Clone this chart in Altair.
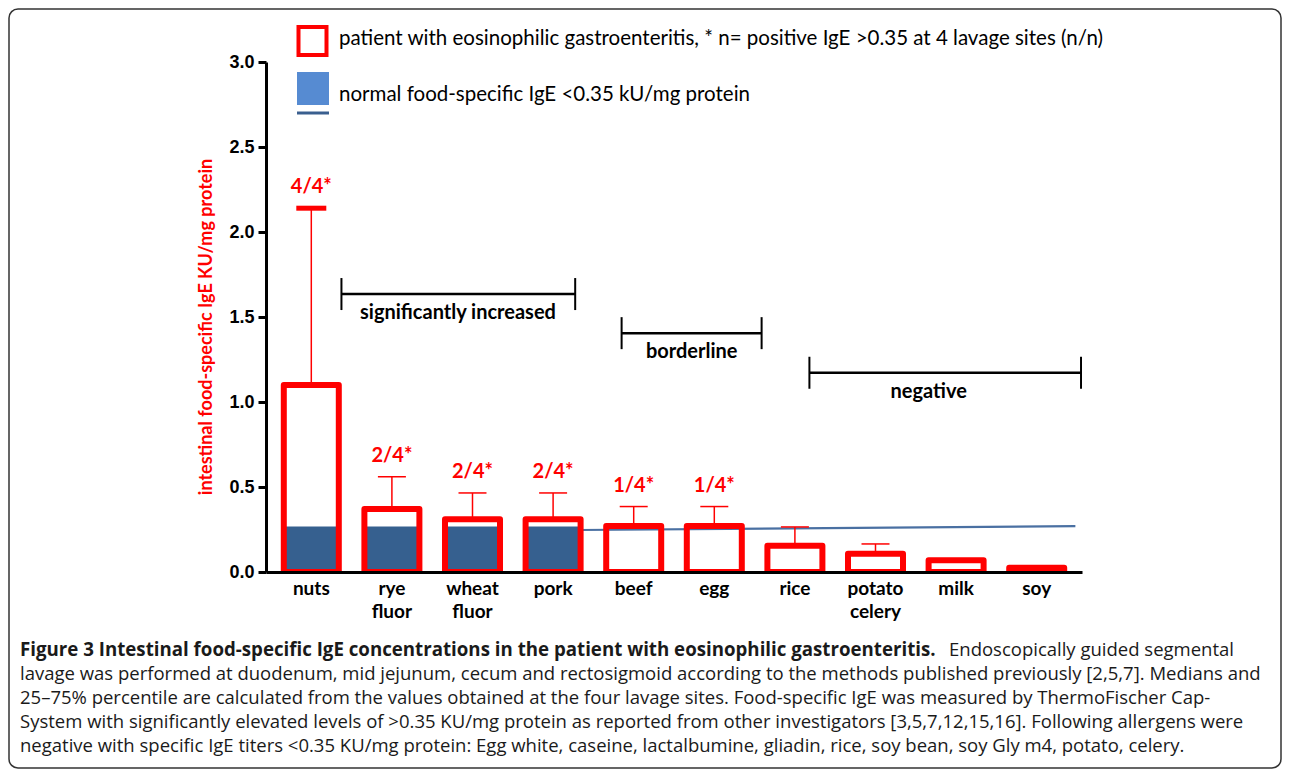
import altair as alt
import pandas as pd

# ---------------- data ----------------
categories = ["nuts", "rye fluor", "wheat fluor", "pork", "beef", "egg",
              "rice", "potato celery", "milk", "soy"]
median_ige = [1.10, 0.37, 0.31, 0.31, 0.27, 0.27, 0.155, 0.108, 0.069, 0.025]
upper_ige = [2.14, 0.56, 0.465, 0.465, 0.385, 0.385, 0.265, 0.165, None, None]
positive_sites = ["4/4*", "2/4*", "2/4*", "2/4*", "1/4*", "1/4*", None, None, None, None]
normal_bar = [0.267, 0.267, 0.267, 0.267, None, None, None, None, None, None]

normal_line_pos = [3.32, 9.48]
normal_line_val = [0.247, 0.27]

bracket_text = ["significantly  increased", "borderline", "negative"]
bracket_start = [0.374, 3.85, 6.18]
bracket_end = [3.274, 5.587, 9.55]
bracket_level = [1.635, 1.405, 1.172]
bracket_text_pos = [1.82, 4.72, 7.66]

y_ticks = [0.0, 0.5, 1.0, 1.5, 2.0, 2.5, 3.0]

y_title = "intestinal food-specific IgE KU/mg protein"
legend_patient = "patient with eosinophilic gastroenteritis, * n= positive IgE >0.35 at 4 lavage sites (n/n)"
legend_normal = "normal food-specific IgE <0.35 kU/mg protein"

caption_bold = "Figure 3 Intestinal food-specific IgE concentrations in the patient with eosinophilic gastroenteritis."
caption_first_tail = "Endoscopically guided segmental"
caption_rest = [
    "lavage was performed at duodenum, mid jejunum, cecum and rectosigmoid according to the methods published previously [2,5,7]. Medians and",
    "25\u201375% percentile are calculated from the values obtained at the four lavage sites. Food-specific IgE was measured by ThermoFischer Cap-",
    "System with significantly elevated levels of >0.35 KU/mg protein as reported from other investigators [3,5,7,12,15,16]. Following allergens were",
    "negative with specific IgE titers <0.35 KU/mg protein: Egg white, caseine, lactalbumine, gliadin, rice, soy bean, soy Gly m4, potato, celery.",
]

# ---------------- tables ----------------
idx = list(range(len(categories)))
df = pd.DataFrame({
    "idx": idx,
    "cat": categories,
    "median": median_ige,
    "upper": upper_ige,
    "pos": positive_sites,
    "normal": normal_bar,
})
df_line = pd.DataFrame({"pos": normal_line_pos, "val": normal_line_val})
df_br = pd.DataFrame({
    "label": bracket_text,
    "start": bracket_start,
    "end": bracket_end,
    "level": bracket_level,
    "tpos": bracket_text_pos,
})
df_ends = pd.DataFrame({
    "pos": bracket_start + bracket_end,
    "level": bracket_level + bracket_level,
})

RED = "#ff0000"
W, H = 816, 510

xscale = alt.Scale(domain=[-0.5, 9.5], nice=False, zero=False)
yscale = alt.Scale(domain=[0, 3], nice=False, zero=True)
xaxis = alt.Axis(labels=False, ticks=False, grid=False, title=None, domain=True,
                 domainColor="black", domainWidth=3, zindex=1)
yaxis = alt.Axis(values=y_ticks, format=".1f", grid=False, title=None,
                 domainColor="black", domainWidth=3, tickColor="black",
                 tickWidth=3, tickSize=8, labelFont="Liberation Sans",
                 labelFontWeight="bold", labelFontSize=18, labelColor="black",
                 labelPadding=4, zindex=1)


def X(f):
    return alt.X(f, type="quantitative", scale=xscale, axis=xaxis)


def Y(f):
    return alt.Y(f, type="quantitative", scale=yscale, axis=yaxis)


base = alt.Chart(df)

blue_bars = base.mark_bar(width=52, color="#36608f").encode(
    x=X("idx"), y=Y("normal"))

blue_line = alt.Chart(df_line).mark_line(color="#4a70a2", strokeWidth=2.2).encode(
    x=X("pos"), y=Y("val"))

whiskers = base.mark_rule(color=RED, strokeWidth=1.5).encode(
    x=X("idx"), y=Y("median"), y2="upper")

red_bars = base.mark_bar(width=55, fill="white", fillOpacity=0, stroke=RED,
                         strokeWidth=6, strokeJoin="round", clip=True).encode(
    x=X("idx"), y=Y("median"), y2=alt.value(H + 15))

caps_thin = base.transform_filter("datum.idx > 0").mark_tick(
    orient="horizontal", color=RED, size=28, thickness=1.5, opacity=1).encode(
    x=X("idx"), y=Y("upper"))
caps_thick = base.transform_filter("datum.idx == 0").mark_tick(
    orient="horizontal", color=RED, size=30, thickness=5, opacity=1).encode(
    x=X("idx"), y=Y("upper"))

pos_labels = base.transform_filter("datum.pos != null").mark_text(
    color=RED, font="Lato", fontWeight="bold", fontSize=20, dy=-21,
    baseline="middle", align="center").encode(
    x=X("idx"), y=Y("upper"), text="pos:N")

cat_labels = base.mark_text(font="Lato", fontWeight="bold", fontSize=19,
                            lineBreak=" ", lineHeight=23, baseline="top",
                            align="center", color="black").encode(
    x=X("idx"), y=alt.value(H + 8), text="cat:N")

br = alt.Chart(df_br)
bracket_lines = br.mark_rule(color="black", strokeWidth=2.5).encode(
    x=X("start"), x2="end", y=Y("level"))
bracket_ends = alt.Chart(df_ends).mark_tick(
    orient="vertical", color="black", size=32, thickness=2, opacity=1).encode(
    x=X("pos"), y=Y("level"))
bracket_labels = br.mark_text(font="Lato", fontWeight="bold", fontSize=20,
                              dy=19, baseline="middle", align="center",
                              color="black").encode(
    x=X("tpos"), y=Y("level"), text="label:N")

# ---------------- y title, legend, caption, frame ----------------
one = pd.DataFrame({
    "ytitle": [y_title],
    "lp": [legend_patient],
    "ln": [legend_normal],
    "cb": [caption_bold],
    "ct": [caption_first_tail],
    "cr": ["\n".join(caption_rest)],
})
o = alt.Chart(one)

y_title_mark = o.mark_text(angle=270, color=RED, font="Lato", fontWeight="bold",
                           fontSize=18, align="center", baseline="middle").encode(
    x=alt.value(-59), y=alt.value(265), text="ytitle:N")

leg_red = o.mark_rect(fill="white", fillOpacity=0, stroke=RED, strokeWidth=4).encode(
    x=alt.value(32.5), x2=alt.value(60.5), y=alt.value(-35), y2=alt.value(-7))
leg_blue = o.mark_rect(color="#568bd2").encode(
    x=alt.value(31), x2=alt.value(63), y=alt.value(10), y2=alt.value(43))
leg_line = o.mark_rule(color="#3a5f8f", strokeWidth=3).encode(
    x=alt.value(31), x2=alt.value(63), y=alt.value(51))
leg_t1 = o.mark_text(font="Lato", fontSize=20.5, align="left", baseline="middle",
                     color="black").encode(
    x=alt.value(73), y=alt.value(-23), text="lp:N")
leg_t2 = o.mark_text(font="Lato", fontSize=20.5, align="left", baseline="middle",
                     color="black").encode(
    x=alt.value(73), y=alt.value(33), text="ln:N")

cap_b = o.mark_text(font="Open Sans", fontSize=18.7, fontWeight="bold",
                    align="left", baseline="middle", color="#1a1a1a").encode(
    x=alt.value(-246), y=alt.value(588), text="cb:N")
cap_t = o.mark_text(font="Open Sans", fontSize=18.5, align="right",
                    baseline="middle", color="#1a1a1a").encode(
    x=alt.value(968), y=alt.value(588), text="ct:N")
cap_r = o.mark_text(font="Open Sans", fontSize=18.5, align="left", baseline="top",
                    lineBreak="\n", lineHeight=24, color="#1a1a1a").encode(
    x=alt.value(-246), y=alt.value(603), text="cr:N")

frame = o.mark_rect(fill="white", fillOpacity=0, stroke="#333333",
                    strokeWidth=1.5, cornerRadius=9).encode(
    x=alt.value(-257), x2=alt.value(1015), y=alt.value(-53), y2=alt.value(706))

chart = alt.layer(
    blue_bars, blue_line, whiskers, red_bars, caps_thin, caps_thick,
    pos_labels, cat_labels, bracket_lines, bracket_ends, bracket_labels,
    y_title_mark, leg_red, leg_blue, leg_line, leg_t1, leg_t2,
    cap_b, cap_t, cap_r, frame,
).properties(
    width=W, height=H,
    autosize=alt.AutoSizeParams(type="none"),
    padding={"left": 258, "top": 54, "right": 200, "bottom": 197},
    background="white",
).configure_view(stroke=None)

chart.save("out.html", embed_options={"renderer": "svg", "actions": False})
